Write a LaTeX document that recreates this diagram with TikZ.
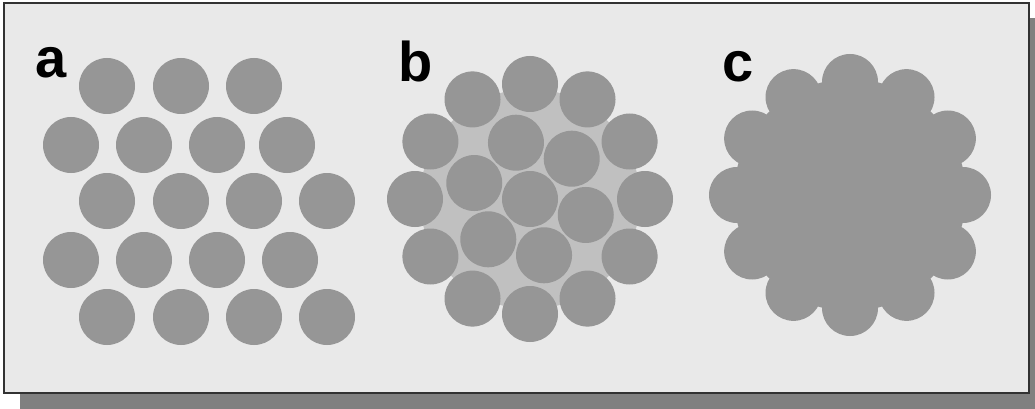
\documentclass[tikz,border=0pt]{standalone}
\usepackage{fontspec}
\setmainfont{Liberation Sans}
\usetikzlibrary{calc}
\definecolor{panelbg}{RGB}{233,233,233}
\definecolor{wiregray}{RGB}{150,150,150}
\definecolor{gapgray}{RGB}{192,192,192}
\definecolor{shadowgray}{RGB}{128,128,128}
\definecolor{framegray}{RGB}{50,50,50}
\begin{document}
\begin{tikzpicture}[
    x=1pt, y=-1pt,
    wire/.style={fill=wiregray},
    frame/.style={fill=panelbg, draw=framegray, line width=2pt},
    shadow/.style={fill=shadowgray},
    tag/.style={anchor=base west, inner sep=0pt, font=\fontsize{56}{60}\selectfont\bfseries}
]
\useasboundingbox (0,0) rectangle (1035,409);

% frame with drop shadow
\fill[shadow] (20,18) rectangle (1035,409);
\draw[frame] (4,3) rectangle (1029,393);

% a: loose hexagonal bundle
\foreach \y/\xs in {86/{107,181,254}, 145/{71,144,217,287},
                    201/{107,181,254,327}, 260/{71,144,217,290},
                    317/{107,181,254,327}}
  \foreach \x in \xs
    \fill[wire] (\x,\y) circle (28);
\node[tag] (taga) at (35,78) {a};

% b: stranded conductor, 1+6+12
\coordinate (cb) at (530,199);
\fill[gapgray] (cb) circle (110);
\fill[wire] (cb) circle (28);
\foreach \a in {16,76,...,316}
  \fill[wire] ($(cb)+(\a:58)$) circle (28);
\foreach \a in {0,30,...,330}
  \fill[wire] ($(cb)+(\a:115)$) circle (28);
\node[tag] (tagb) at (398,82) {b};

% c: compacted conductor
\coordinate (cc) at (850,195);
\fill[wire] (cc) circle (116);
\foreach \a in {0,30,...,330}
  \fill[wire] ($(cc)+(\a:113)$) circle (28);
\node[tag] (tagc) at (722,82) {c};

\end{tikzpicture}
\end{document}
